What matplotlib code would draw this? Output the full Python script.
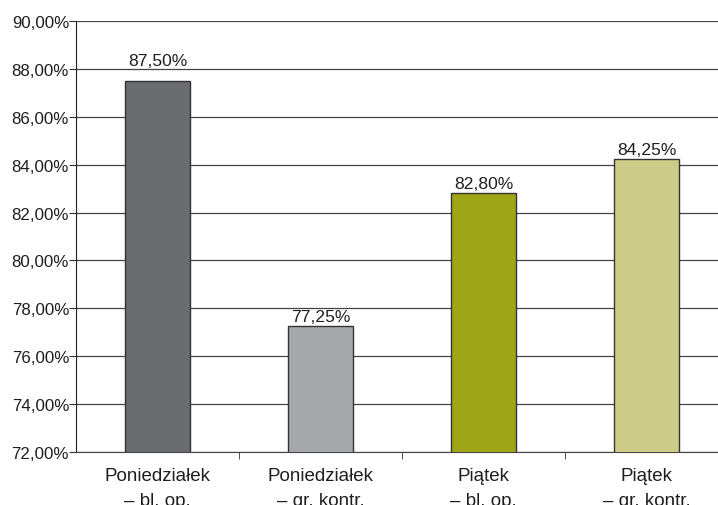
import matplotlib
matplotlib.use('Agg')
import matplotlib.pyplot as plt
import numpy as np
from matplotlib.ticker import FuncFormatter, FixedLocator

plt.rcParams['font.family'] = ['Liberation Sans', 'DejaVu Sans']

categories = ['Poniedziałek\n– bl. op.', 'Poniedziałek\n– gr. kontr.',
              'Piątek\n– bl. op.', 'Piątek\n– gr. kontr.']
values = [87.50, 77.25, 82.80, 84.25]
colors = ['#6b6c70', '#a7a8ac', '#9ea617', '#cccc88']

fig = plt.figure(figsize=(7.18, 5.06), dpi=100)
ax = fig.add_axes([76 / 718, 53 / 506, 652 / 718, 431 / 506])

x = np.arange(len(values))
ax.set_axisbelow(True)
ax.yaxis.grid(True, color='#444444', linewidth=0.9)
bars = ax.bar(x, values, width=0.4, color=colors, edgecolor='#333333',
              linewidth=1.0, zorder=3)

# first label sits above the 88% gridline
label_pad = [9, 1.5, 1.5, 1.5]
for xi, v, pad in zip(x, values, label_pad):
    ax.annotate(f'{v:.2f}%'.replace('.', ','), (xi, v), xytext=(0, pad),
                textcoords='offset points', ha='center', va='bottom',
                fontsize=12.6, color='#1e1e1e')

ax.set_ylim(72, 90)
ax.set_xlim(-0.5, 3.5)
ax.set_yticks(np.arange(72, 90.1, 2))
ax.yaxis.set_major_formatter(FuncFormatter(lambda v, p: f'{v:.2f}%'.replace('.', ',')))

# category labels centred, tick marks on category boundaries
ax.set_xticks(x)
ax.set_xticklabels(categories, fontsize=13.5, color='#1e1e1e', linespacing=1.65)
ax.tick_params(axis='x', which='major', length=0, pad=10.5)
ax.xaxis.set_minor_locator(FixedLocator([0.5, 1.5, 2.5]))
ax.tick_params(axis='x', which='minor', length=5, color='#333333')
ax.tick_params(axis='y', length=5, color='#333333', labelsize=12.2,
               labelcolor='#1e1e1e', pad=0)

for s in ['top', 'right']:
    ax.spines[s].set_visible(False)
ax.spines['left'].set_color('#222222')
ax.spines['bottom'].set_color('#444444')

fig.savefig('out.png', dpi=100)
